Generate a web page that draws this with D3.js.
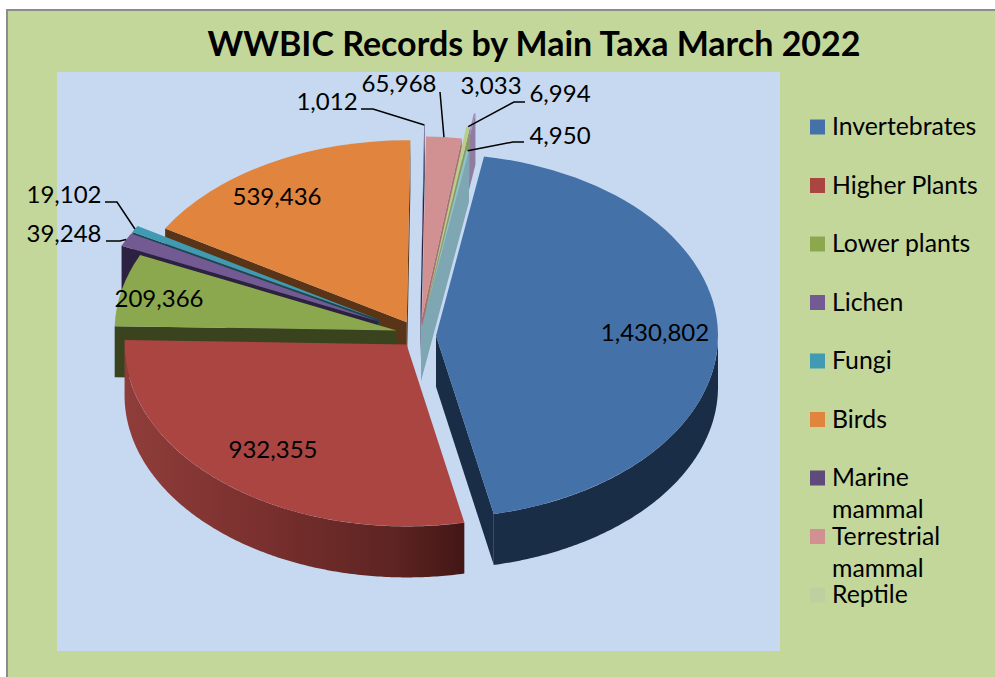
<!DOCTYPE html>
<html>
<head>
<meta charset="utf-8">
<script src="https://cdn.jsdelivr.net/npm/d3@7"></script>
<style>
  html, body { margin: 0; padding: 0; background: #fff; }
  svg { display: block; }
  text { font-family: Lato, "Open Sans", sans-serif; fill: #000; }
</style>
</head>
<body>
<svg width="995" height="677"></svg>
<script>
// Chart values, clockwise from the blue slice
const values = [1430802, 932355, 209366, 39248, 19102, 539436, 1012, 65968, 6994, 3033, 4950];
const legendNames = [["Invertebrates"], ["Higher Plants"], ["Lower plants"], ["Lichen"], ["Fungi"], ["Birds"],
  ["Marine", "mammal"], ["Terrestrial", "mammal"], ["Reptile"]];
const topColors = ["#4472a8", "#ab4542", "#8ba84e", "#745a93", "#3f9ab2", "#e0843e", "#5f4a7c", "#d19092", "#b9ce8a", "#a18db5", "#8cc3cf"];
const sideColors = ["#1a2d47", "#5c2422", "#39431e", "#2c2140", "#1c4653", "#5a3416", "#2c2140", "#a86f70", "#8a9a66", "#8f7ba3", "#7fa6b3"];
const legendColors = topColors.slice(0, 6).concat(["#5f4a7c", "#d19092", "#bdd1a0"]);

// How far each slice is pulled out of the pie, in px
const explode = [16, 21, 24, 47, 47, 21, 42, 24, 43, 64, 6];
// Small corrections for the original's perspective: [dx, dy]
const nudge = [[0, 2], [0, 0], [0, 0], [0, 1], [0, 1], [-3, 0], [0, 0], [0, 0], [0, 0], [0, 0], [0, 0]];
// Back to front
const drawOrder = [9, 7, 8, 6, 10, 5, 4, 3, 2, 1, 0];

// Data label layout: [x, y, leader elbow points]
const labelLayout = [
  { x: 655, y: 333 },
  { x: 273, y: 450 },
  { x: 159, y: 299 },
  { x: 64, y: 234, leader: [[106, 241], [120, 241]] },
  { x: 64, y: 195, leader: [[105, 202], [117, 202]] },
  { x: 277, y: 197 },
  { x: 327, y: 102, leader: [[361, 109], [373, 109]] },
  { x: 399, y: 84, leader: [[440, 92]] },
  { x: 560, y: 94, leader: [[525, 102], [514, 102]] },
  { x: 491, y: 86 },
  { x: 560, y: 136, leader: [[524, 142], [513, 142]] }
];

const cx = 420, cy = 334, rx = 282, ry = 182, depth = 51;
const squash = ry / rx;
const start = 9.8 * Math.PI / 180;

const svg = d3.select("svg");

// Chart background and plot area
svg.append("rect").attr("x", 7).attr("y", 10).attr("width", 995).attr("height", 680)
  .attr("fill", "#c4d79b").attr("stroke", "#8c8c8c").attr("stroke-width", 2);
svg.append("rect").attr("x", 57).attr("y", 72).attr("width", 723).attr("height", 579).attr("fill", "#c6d9f1");

svg.append("text").attr("x", 534).attr("y", 56).attr("text-anchor", "middle")
  .attr("font-size", 34).attr("font-weight", 700).text("WWBIC Records by Main Taxa March 2022");

// Red rim is lit from the left
const defs = svg.append("defs");
const rimGrad = defs.append("linearGradient").attr("id", "redRim")
  .attr("gradientUnits", "userSpaceOnUse").attr("x1", 125).attr("x2", 465).attr("y1", 0).attr("y2", 0);
rimGrad.selectAll("stop").data([[0, "#8f3d3a"], [0.4, "#7a302e"], [0.8, "#5c2422"], [1, "#421615"]]).enter().append("stop")
  .attr("offset", d => d[0]).attr("stop-color", d => d[1]);

const pie = d3.pie().sort(null).startAngle(start).endAngle(start + 2 * Math.PI);
const arcs = pie(values);
const arc = d3.arc().innerRadius(0).outerRadius(rx);
const line = d3.line();

// Angle is clockwise from the top, like d3.arc
const rimPoint = (a, o, dy) => [o.x + rx * Math.sin(a), o.y - ry * Math.cos(a) + dy];
const apexOf = (d, i) => {
  const mid = (d.startAngle + d.endAngle) / 2;
  return {
    x: cx + explode[i] * Math.sin(mid) + nudge[i][0],
    y: cy - explode[i] * squash * Math.cos(mid) + nudge[i][1]
  };
};

function cutFace(o, a) {
  const p = rimPoint(a, o, 0), q = rimPoint(a, o, depth);
  return line([[o.x, o.y], p, q, [o.x, o.y + depth]]) + "Z";
}

// Only the part of the rim between 90 and 270 degrees faces the viewer
function rimFace(o, a0, a1) {
  const out = [];
  [0, 2].forEach(turn => {
    const from = Math.max(a0, Math.PI / 2 + turn * Math.PI), to = Math.min(a1, 3 * Math.PI / 2 + turn * Math.PI);
    if (to > from) {
      const steps = d3.range(from, to, 0.01).concat([to]);
      const top = steps.map(a => rimPoint(a, o, 0));
      const bottom = steps.map(a => rimPoint(a, o, depth)).reverse();
      out.push(line(top.concat(bottom)) + "Z");
    }
  });
  return out.join("");
}

const pieG = svg.append("g");
drawOrder.forEach(i => {
  const d = arcs[i], o = apexOf(d, i);
  const g = pieG.append("g");
  if (Math.sin(d.startAngle) < 0) {
    g.append("path").attr("d", cutFace(o, d.startAngle)).attr("fill", sideColors[i]);
  }
  if (Math.sin(d.endAngle) > 0) {
    g.append("path").attr("d", cutFace(o, d.endAngle)).attr("fill", sideColors[i]);
  }
  const rim = rimFace(o, d.startAngle, d.endAngle);
  if (rim) {
    g.append("path").attr("d", rim).attr("fill", i === 1 ? "url(#redRim)" : sideColors[i]);
  }
  g.append("path").attr("d", arc(d))
    .attr("transform", `translate(${o.x},${o.y}) scale(1,${squash})`)
    .attr("fill", topColors[i]);
});

// Data labels and leader lines
const fmt = d3.format(",");
const labelG = svg.append("g");
values.forEach((v, i) => {
  const l = labelLayout[i];
  if (l.leader) {
    const d = arcs[i], o = apexOf(d, i);
    const tip = rimPoint((d.startAngle + d.endAngle) / 2, o, 0);
    labelG.append("path").attr("d", line(l.leader.concat([tip])))
      .attr("fill", "none").attr("stroke", "#000").attr("stroke-width", 1.5);
  }
  labelG.append("text").attr("x", l.x).attr("y", l.y).attr("dy", "0.35em")
    .attr("text-anchor", "middle").attr("font-size", 24).text(fmt(v));
});

// Legend
const legendY = d3.scalePoint().domain(d3.range(legendNames.length)).range([127, 595]);
const legend = svg.append("g").selectAll("g").data(legendNames).enter().append("g");
legend.append("rect").attr("x", 810).attr("y", (d, i) => legendY(i) - 7.5)
  .attr("width", 15).attr("height", 15).attr("fill", (d, i) => legendColors[i]);
legend.each(function(lines, i) {
  lines.forEach((t, k) => {
    d3.select(this).append("text").attr("x", 832).attr("y", legendY(i) + k * 32)
      .attr("dy", "0.33em").attr("font-size", 24.8).text(t);
  });
});
</script>
</body>
</html>
